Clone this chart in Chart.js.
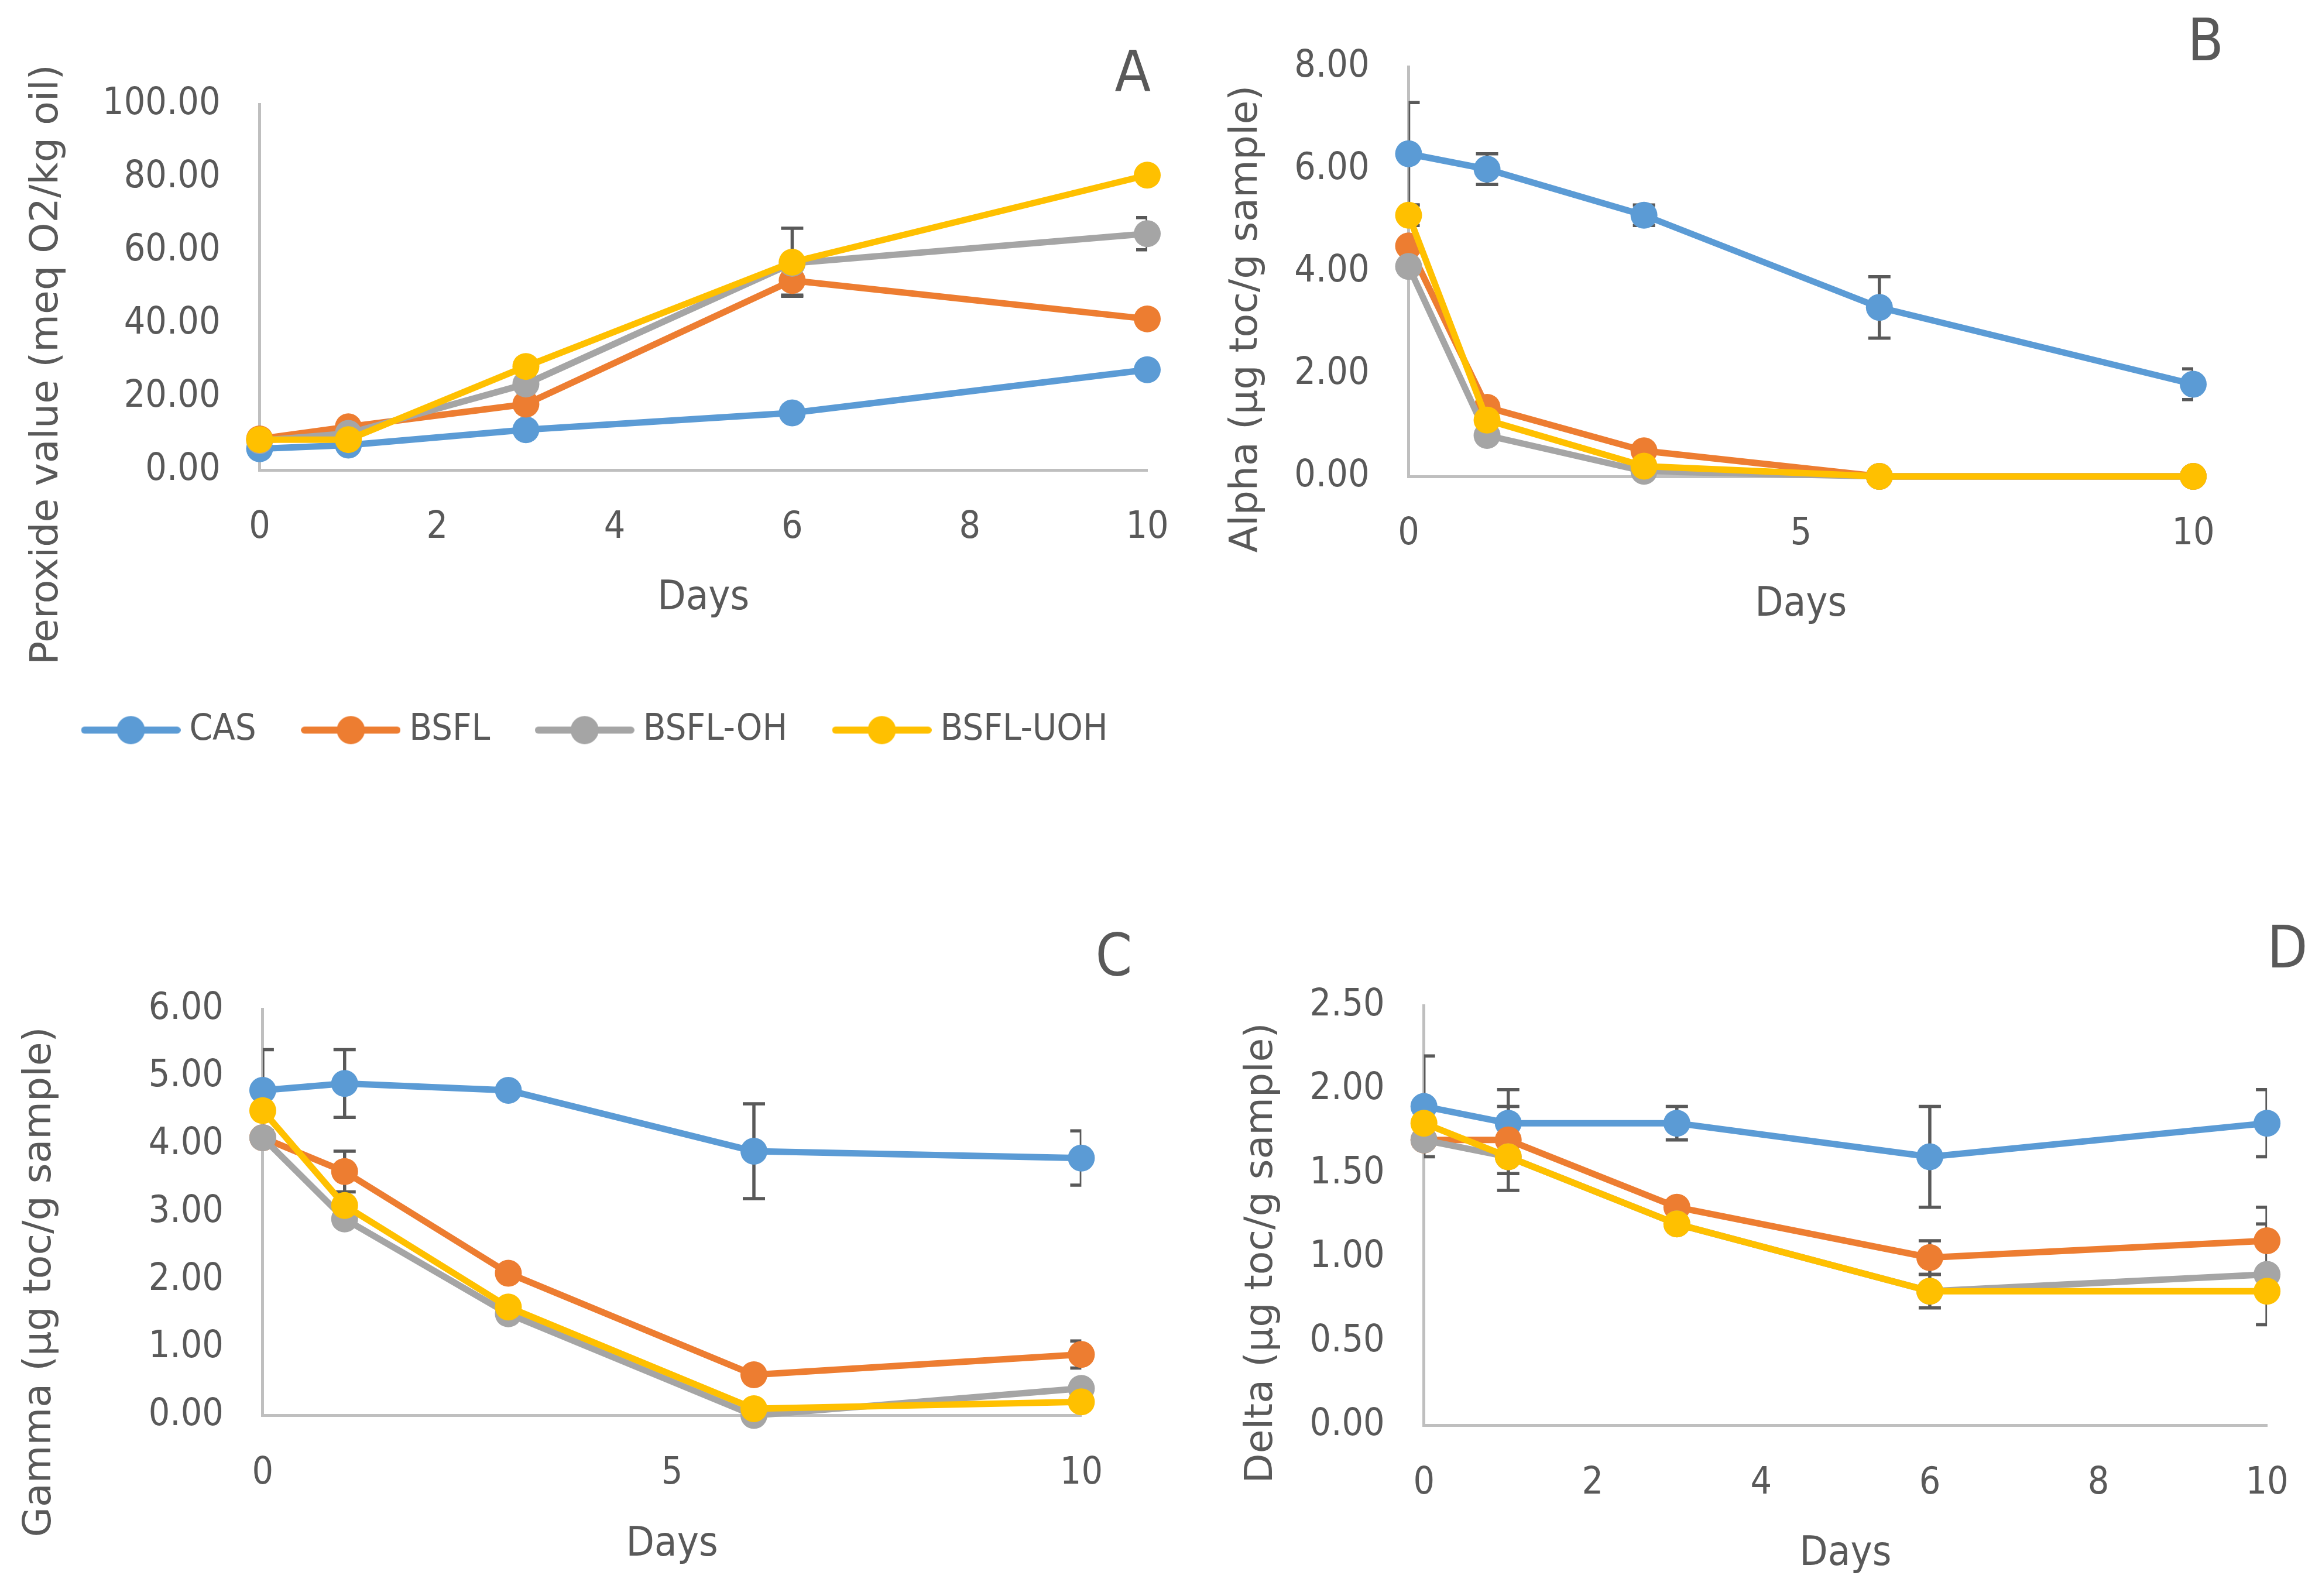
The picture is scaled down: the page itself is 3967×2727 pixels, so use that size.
<!DOCTYPE html>
<html><head><meta charset="utf-8">
<script src="https://cdn.jsdelivr.net/npm/chart.js@4.4.1/dist/chart.umd.min.js"></script>
<style>
html,body{margin:0;padding:0;background:#ffffff;overflow:hidden;width:3967px;height:2727px;}
.panel{position:absolute;}
</style></head><body>
<div id="pA" class="panel"><canvas id="cA"></canvas></div>
<div id="pB" class="panel"><canvas id="cB"></canvas></div>
<div id="pC" class="panel"><canvas id="cC"></canvas></div>
<div id="pD" class="panel"><canvas id="cD"></canvas></div>
<div id="pL" class="panel"><canvas id="cL"></canvas></div>
<script>
// ---------------- DATA ----------------
const days = [0, 1, 3, 6, 10];
const seriesNames = ['CAS', 'BSFL', 'BSFL-OH', 'BSFL-UOH'];

const peroxideCAS  = [5.8, 6.8, 11.0, 15.6, 27.4];
const peroxideBSFL = [8.5, 11.8, 18.0, 51.8, 41.3];
const peroxideOH   = [8.0, 10.0, 23.5, 56.5, 64.6];
const peroxideUOH  = [8.3, 8.3, 28.3, 56.8, 80.6];
const peroxideCASErr  = [0, 0, 0, 0, 0];
const peroxideBSFLErr = [0, 0, 0, 4.0, 0];
const peroxideOHErr   = [0, 0, 0, 0, 4.4];
const peroxideUOHErr  = [0, 0, 0, 9.3, 0];

const alphaCAS  = [6.3, 6.0, 5.1, 3.3, 1.8];
const alphaBSFL = [4.5, 1.35, 0.5, 0.0, 0.0];
const alphaOH   = [4.1, 0.8, 0.1, 0.0, 0.0];
const alphaUOH  = [5.1, 1.1, 0.2, 0.0, 0.0];
const alphaCASErr  = [1.0, 0.3, 0.2, 0.6, 0.3];
const alphaBSFLErr = [0, 0, 0, 0, 0];
const alphaOHErr   = [0, 0, 0, 0, 0];
const alphaUOHErr  = [0.2, 0, 0, 0, 0];

const gammaCAS  = [4.8, 4.9, 4.8, 3.9, 3.8];
const gammaBSFL = [4.1, 3.6, 2.1, 0.6, 0.9];
const gammaOH   = [4.1, 2.9, 1.5, 0.0, 0.4];
const gammaUOH  = [4.5, 3.1, 1.6, 0.1, 0.2];
const gammaCASErr  = [0.6, 0.5, 0, 0.7, 0.4];
const gammaBSFLErr = [0, 0.3, 0, 0, 0.2];
const gammaOHErr   = [0, 0, 0, 0, 0];
const gammaUOHErr  = [0, 0, 0, 0, 0];

const deltaCAS  = [1.9, 1.8, 1.8, 1.6, 1.8];
const deltaBSFL = [1.7, 1.7, 1.3, 1.0, 1.1];
const deltaOH   = [1.7, 1.6, 1.2, 0.8, 0.9];
const deltaUOH  = [1.8, 1.6, 1.2, 0.8, 0.8];
const deltaCASErr  = [0.3, 0.2, 0.1, 0.3, 0.2];
const deltaBSFLErr = [0, 0.2, 0, 0.1, 0.2];
const deltaOHErr   = [0, 0, 0, 0, 0.3];
const deltaUOHErr  = [0, 0.2, 0, 0.1, 0];

const ticksPeroxide = [0, 20, 40, 60, 80, 100];
const ticksAlpha = [0, 2, 4, 6, 8];
const ticksGamma = [0, 1, 2, 3, 4, 5, 6];
const ticksDelta = [0, 0.5, 1.0, 1.5, 2.0, 2.5];
const daysTicksFine = [0, 2, 4, 6, 8, 10];
const daysTicksCoarse = [0, 5, 10];

const titlePeroxide = 'Peroxide value (meq O2/kg oil)';
const titleAlpha = 'Alpha (\u00b5g toc/g sample)';
const titleGamma = 'Gamma (\u00b5g toc/g sample)';
const titleDelta = 'Delta (\u00b5g toc/g sample)';
const xTitle = 'Days';

// ---------------- STYLE ----------------
const COLORS = ['#5B9BD5', '#ED7D31', '#A5A5A5', '#FFC000'];
const TEXT = '#595959';
const AXIS = '#BFBFBF';
const ERR = '#595959';
const FONT_NUM = "'DejaVu Sans Condensed', 'Liberation Sans Narrow', sans-serif";
const FONT_TITLE = "'DejaVu Sans', Verdana, sans-serif";

// layout geometry (page pixels)
const geomA = {titleMidX: 80, plotL: 443, plotR: 1960, plotT: 178, plotB: 803, boxTop: 85, boxBottom: 1161, letterMid: 130.5, letterRight: 1966, canvasRight: 2005, daysMid: 1023};
const geomB = {titleMidX: 2129, plotL: 2406, plotR: 3747, plotT: 114, plotB: 814, boxTop: 4, boxBottom: 1086, letterMid: 77, letterRight: 3799, canvasRight: 3799, daysMid: 1034};
const geomC = {titleMidX: 67.6, plotL: 448, plotR: 1847, plotT: 1724, plotB: 2418.5, boxTop: 1590, boxBottom: 2791, letterMid: 1641.5, letterRight: 1934, canvasRight: 1934, daysMid: 2639.5};
const geomD = {titleMidX: 2154.5, plotL: 2431.7, plotR: 3872.6, plotT: 1718.2, plotB: 2435.8, boxTop: 1574, boxBottom: 2708, letterMid: 1627.5, letterRight: 3942, canvasRight: 3942, daysMid: 2656};

const errorBarPlugin = {
  id: 'errorBars',
  beforeDatasetsDraw(chart) {
    const {ctx, chartArea} = chart;
    const ys = chart.scales.y;
    ctx.save();
    ctx.beginPath();
    ctx.rect(chartArea.left, chartArea.top, chartArea.right - chartArea.left, chartArea.bottom - chartArea.top);
    ctx.clip();
    ctx.strokeStyle = ERR;
    ctx.lineWidth = 5.5;
    ctx.lineCap = 'butt';
    chart.data.datasets.forEach((ds, di) => {
      const meta = chart.getDatasetMeta(di);
      (ds.errors || []).forEach((e, i) => {
        if (!e) return;
        const pt = meta.data[i];
        if (!pt) return;
        const v = ds.data[i].y;
        const x = pt.x;
        const y1 = ys.getPixelForValue(v + e);
        const y2 = ys.getPixelForValue(v - e);
        ctx.beginPath();
        ctx.moveTo(x, y1); ctx.lineTo(x, y2);
        ctx.moveTo(x - 19, y1); ctx.lineTo(x + 19, y1);
        ctx.moveTo(x - 19, y2); ctx.lineTo(x + 19, y2);
        ctx.stroke();
      });
    });
    ctx.restore();
  }
};

function buildDatasets(valueSets, errSets) {
  return valueSets.map((vals, i) => ({
    label: seriesNames[i],
    data: days.map((d, k) => ({x: d, y: vals[k]})),
    errors: errSets[i],
    borderColor: COLORS[i],
    backgroundColor: COLORS[i],
    borderWidth: 11,
    borderJoinStyle: 'round',
    borderCapStyle: 'round',
    pointRadius: 23,
    pointHoverRadius: 23,
    pointBackgroundColor: COLORS[i],
    pointBorderColor: COLORS[i],
    pointBorderWidth: 0,
    tension: 0,
    clip: false,
    order: 3 - i
  }));
}

function makePanel(divId, canvasId, g, yMin, yMax, yTicks, yDecimals, xTicks, yTitle, letter, valueSets, errSets) {
  const L = g.titleMidX - 33;
  const T = g.boxTop;
  const H = g.boxBottom - g.boxTop;
  const W = g.canvasRight - L;
  const div = document.getElementById(divId);
  div.style.left = L + 'px';
  div.style.top = T + 'px';
  div.style.width = W + 'px';
  div.style.height = H + 'px';
  const padR = g.canvasRight - g.letterRight;
  const yW = g.plotL - L - 66;
  const p1 = g.letterMid - g.boxTop - 10;
  const p2 = g.plotT - g.boxTop - p1 - 20;
  const xH = g.boxBottom - g.plotB;
  const xPadR = g.canvasRight - g.plotR;
  const pbt = g.boxBottom - g.daysMid - 35;

  return new Chart(document.getElementById(canvasId), {
    type: 'line',
    data: {datasets: buildDatasets(valueSets, errSets)},
    plugins: [errorBarPlugin],
    options: {
      responsive: true,
      maintainAspectRatio: false,
      animation: false,
      events: [],
      layout: {padding: {left: 0, top: 0, right: padR, bottom: 0}},
      plugins: {
        legend: {display: false},
        tooltip: {enabled: false},
        title: {
          display: true, position: 'left', align: 'center', text: yTitle, color: TEXT,
          font: {family: FONT_TITLE, size: 66.5, weight: 'normal', lineHeight: 1}, padding: 0
        },
        subtitle: {
          display: true, position: 'top', align: 'end', text: letter, color: TEXT,
          font: {family: FONT_NUM, size: 100, weight: 'normal', lineHeight: 0.2},
          padding: {top: p1, bottom: p2}
        }
      },
      scales: {
        x: {
          type: 'linear', min: 0, max: 10,
          afterBuildTicks: s => { s.ticks = xTicks.map(v => ({value: v})); },
          afterFit: s => { s.height = xH; s.paddingRight = xPadR; },
          grid: {display: false, drawTicks: false},
          border: {display: true, color: AXIS, width: 5},
          ticks: {padding: 61, color: TEXT, font: {family: FONT_NUM, size: 64}, maxRotation: 0, autoSkip: false,
                  callback: v => String(v)},
          title: {display: true, text: xTitle, color: TEXT,
                  font: {family: FONT_NUM, size: 70, lineHeight: 1}, padding: {top: 0, bottom: pbt}}
        },
        y: {
          type: 'linear', min: yMin, max: yMax,
          afterBuildTicks: s => { s.ticks = yTicks.map(v => ({value: v})); },
          afterFit: s => { s.width = yW; s.paddingTop = 0; s.paddingBottom = 0; },
          grid: {display: false, drawTicks: false},
          border: {display: true, color: AXIS, width: 5},
          ticks: {padding: 67, color: TEXT, font: {family: FONT_NUM, size: 64}, autoSkip: false,
                  callback: v => Number(v).toFixed(yDecimals)}
        }
      }
    }
  });
}

makePanel('pA', 'cA', geomA, 0, 100, ticksPeroxide, 2, daysTicksFine, titlePeroxide, 'A',
  [peroxideCAS, peroxideBSFL, peroxideOH, peroxideUOH],
  [peroxideCASErr, peroxideBSFLErr, peroxideOHErr, peroxideUOHErr]);
makePanel('pB', 'cB', geomB, 0, 8, ticksAlpha, 2, daysTicksCoarse, titleAlpha, 'B',
  [alphaCAS, alphaBSFL, alphaOH, alphaUOH],
  [alphaCASErr, alphaBSFLErr, alphaOHErr, alphaUOHErr]);
makePanel('pC', 'cC', geomC, 0, 6, ticksGamma, 2, daysTicksCoarse, titleGamma, 'C',
  [gammaCAS, gammaBSFL, gammaOH, gammaUOH],
  [gammaCASErr, gammaBSFLErr, gammaOHErr, gammaUOHErr]);
makePanel('pD', 'cD', geomD, 0, 2.5, ticksDelta, 2, daysTicksFine, titleDelta, 'D',
  [deltaCAS, deltaBSFL, deltaOH, deltaUOH],
  [deltaCASErr, deltaBSFLErr, deltaOHErr, deltaUOHErr]);

// ---------------- LEGEND ----------------
function legendIcon(color) {
  const c = document.createElement('canvas');
  c.width = 170; c.height = 50;
  const x = c.getContext('2d');
  x.strokeStyle = color; x.lineWidth = 12; x.lineCap = 'round';
  x.beginPath(); x.moveTo(6, 25); x.lineTo(164, 25); x.stroke();
  x.fillStyle = color;
  x.beginPath(); x.arc(85, 25, 24, 0, Math.PI * 2); x.fill();
  return c;
}
const legDiv = document.getElementById('pL');
legDiv.style.left = '62px'; legDiv.style.top = '1123px';
legDiv.style.width = '2100px'; legDiv.style.height = '400px';
new Chart(document.getElementById('cL'), {
  type: 'line',
  data: {datasets: seriesNames.map((n, i) => ({label: n, data: [], borderColor: COLORS[i], backgroundColor: COLORS[i]}))},
  options: {
    responsive: true, maintainAspectRatio: false, animation: false, events: [],
    layout: {padding: 0},
    scales: {x: {display: false}, y: {display: false}},
    plugins: {
      tooltip: {enabled: false},
      legend: {
        display: true, position: 'top', align: 'start',
        labels: {
          usePointStyle: true, pointStyleWidth: 137, padding: 93, color: TEXT,
          font: {family: FONT_NUM, size: 63},
          generateLabels: chart => chart.data.datasets.map((ds, i) => ({
            text: ds.label, pointStyle: legendIcon(ds.borderColor), fillStyle: ds.borderColor,
            strokeStyle: ds.borderColor, lineWidth: 0, hidden: false, datasetIndex: i, fontColor: TEXT
          }))
        }
      }
    }
  }
});
</script>
</body></html>
